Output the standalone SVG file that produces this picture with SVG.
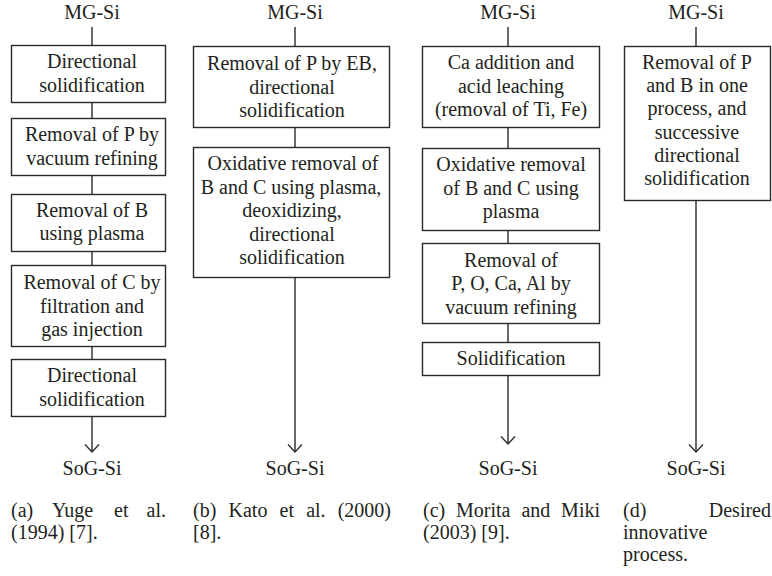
<svg xmlns="http://www.w3.org/2000/svg" width="772" height="576" viewBox="0 0 772 576">
<defs>
<marker id="ah" markerWidth="14" markerHeight="16" refX="10" refY="8" orient="auto" markerUnits="userSpaceOnUse" viewBox="0 0 14 16">
<path d="M2.5,1 L10,8 L2.5,15" fill="none" stroke="#2a2a2a" stroke-width="1.3"/>
</marker>
</defs>
<style>
.box{fill:#fff;stroke:#2a2a2a;stroke-width:1.4}
.ln{stroke:#2a2a2a;stroke-width:1.4}
</style>
<rect x="0" y="0" width="772" height="576" fill="#fff"/>
<g id="connectors">
<line class="ln" x1="92" y1="27" x2="92" y2="45"/>
<line class="ln" x1="92" y1="102" x2="92" y2="118"/>
<line class="ln" x1="92" y1="175" x2="92" y2="194"/>
<line class="ln" x1="92" y1="251" x2="92" y2="265"/>
<line class="ln" x1="92" y1="346" x2="92" y2="359"/>
<line class="ln" x1="92" y1="416" x2="92" y2="452" marker-end="url(#ah)"/>
<line class="ln" x1="295" y1="27" x2="295" y2="46"/>
<line class="ln" x1="295" y1="127" x2="295" y2="147"/>
<line class="ln" x1="295" y1="277" x2="295" y2="452" marker-end="url(#ah)"/>
<line class="ln" x1="508" y1="27" x2="508" y2="46"/>
<line class="ln" x1="508" y1="127" x2="508" y2="148"/>
<line class="ln" x1="508" y1="230" x2="508" y2="243"/>
<line class="ln" x1="508" y1="323" x2="508" y2="342"/>
<line class="ln" x1="508" y1="375" x2="508" y2="444" marker-end="url(#ah)"/>
<line class="ln" x1="696" y1="27" x2="696" y2="46"/>
<line class="ln" x1="696" y1="200" x2="696" y2="452" marker-end="url(#ah)"/>
</g>
<g id="a-mg"><text x="92" y="19" font-family="Liberation Serif" font-size="20" text-anchor="middle" fill="#231f20">MG-Si</text></g>
<g id="a1"><rect class="box" x="11.5" y="45.5" width="154" height="57"/><text x="92" y="68" font-family="Liberation Serif" font-size="20" text-anchor="middle" fill="#231f20">Directional</text><text x="92" y="91.5" font-family="Liberation Serif" font-size="20" text-anchor="middle" fill="#231f20">solidification</text></g>
<g id="a2"><rect class="box" x="11.5" y="118.5" width="154" height="57"/><text x="92" y="141" font-family="Liberation Serif" font-size="20" text-anchor="middle" fill="#231f20">Removal of P by</text><text x="92" y="164.5" font-family="Liberation Serif" font-size="20" text-anchor="middle" fill="#231f20">vacuum refining</text></g>
<g id="a3"><rect class="box" x="11.5" y="194.5" width="154" height="57"/><text x="92" y="216.5" font-family="Liberation Serif" font-size="20" text-anchor="middle" fill="#231f20">Removal of B</text><text x="92" y="240" font-family="Liberation Serif" font-size="20" text-anchor="middle" fill="#231f20">using plasma</text></g>
<g id="a4"><rect class="box" x="11.5" y="265.5" width="154" height="81"/><text x="92" y="289" font-family="Liberation Serif" font-size="20" text-anchor="middle" fill="#231f20">Removal of C by</text><text x="92" y="312.5" font-family="Liberation Serif" font-size="20" text-anchor="middle" fill="#231f20">filtration and</text><text x="92" y="336" font-family="Liberation Serif" font-size="20" text-anchor="middle" fill="#231f20">gas injection</text></g>
<g id="a5"><rect class="box" x="11.5" y="359.5" width="154" height="57"/><text x="92" y="382" font-family="Liberation Serif" font-size="20" text-anchor="middle" fill="#231f20">Directional</text><text x="92" y="405.5" font-family="Liberation Serif" font-size="20" text-anchor="middle" fill="#231f20">solidification</text></g>
<g id="a-sog"><text x="92" y="475" font-family="Liberation Serif" font-size="20" text-anchor="middle" fill="#231f20">SoG-Si</text></g>
<g id="a-cap" font-family="Liberation Serif" font-size="20" fill="#231f20"><text x="11" y="517">(a)</text><text x="52" y="517">Yuge</text><text x="114" y="517">et</text><text text-anchor="end" x="166" y="517">al.</text><text x="11" y="539">(1994) [7].</text></g>

<g id="b-mg"><text x="295" y="19" font-family="Liberation Serif" font-size="20" text-anchor="middle" fill="#231f20">MG-Si</text></g>
<g id="b1"><rect class="box" x="193.5" y="46.5" width="196" height="81"/><text x="292" y="70" font-family="Liberation Serif" font-size="20" text-anchor="middle" fill="#231f20">Removal of P by EB,</text><text x="292" y="93.5" font-family="Liberation Serif" font-size="20" text-anchor="middle" fill="#231f20">directional</text><text x="292" y="117" font-family="Liberation Serif" font-size="20" text-anchor="middle" fill="#231f20">solidification</text></g>
<g id="b2"><rect class="box" x="193.5" y="147.5" width="196" height="130"/><text x="293" y="170" font-family="Liberation Serif" font-size="20" text-anchor="middle" fill="#231f20">Oxidative removal of</text><text x="291" y="193.5" font-family="Liberation Serif" font-size="20" text-anchor="middle" fill="#231f20">B and C using plasma,</text><text x="292" y="217" font-family="Liberation Serif" font-size="20" text-anchor="middle" fill="#231f20">deoxidizing,</text><text x="292" y="240.5" font-family="Liberation Serif" font-size="20" text-anchor="middle" fill="#231f20">directional</text><text x="292" y="264" font-family="Liberation Serif" font-size="20" text-anchor="middle" fill="#231f20">solidification</text></g>
<g id="b-sog"><text x="295" y="475" font-family="Liberation Serif" font-size="20" text-anchor="middle" fill="#231f20">SoG-Si</text></g>
<g id="b-cap" font-family="Liberation Serif" font-size="20" fill="#231f20"><text x="193" y="517">(b)</text><text x="228.5" y="517">Kato</text><text x="279.6" y="517">et</text><text x="306.2" y="517">al.</text><text text-anchor="end" x="391" y="517">(2000)</text><text x="193" y="539">[8].</text></g>

<g id="c-mg"><text x="508" y="19" font-family="Liberation Serif" font-size="20" text-anchor="middle" fill="#231f20">MG-Si</text></g>
<g id="c1"><rect class="box" x="422.5" y="46.5" width="177" height="81"/><text x="511" y="69" font-family="Liberation Serif" font-size="20" text-anchor="middle" fill="#231f20">Ca addition and</text><text x="511" y="92.5" font-family="Liberation Serif" font-size="20" text-anchor="middle" fill="#231f20">acid leaching</text><text x="511" y="116" font-family="Liberation Serif" font-size="20" text-anchor="middle" fill="#231f20">(removal of Ti, Fe)</text></g>
<g id="c2"><rect class="box" x="422.5" y="148.5" width="177" height="82"/><text x="511" y="171" font-family="Liberation Serif" font-size="20" text-anchor="middle" fill="#231f20">Oxidative removal</text><text x="511" y="194.5" font-family="Liberation Serif" font-size="20" text-anchor="middle" fill="#231f20">of B and C using</text><text x="511" y="218" font-family="Liberation Serif" font-size="20" text-anchor="middle" fill="#231f20">plasma</text></g>
<g id="c3"><rect class="box" x="422.5" y="243.5" width="177" height="80"/><text x="511" y="267" font-family="Liberation Serif" font-size="20" text-anchor="middle" fill="#231f20">Removal of</text><text x="511" y="290" font-family="Liberation Serif" font-size="20" text-anchor="middle" fill="#231f20">P, O, Ca, Al by</text><text x="511" y="313.5" font-family="Liberation Serif" font-size="20" text-anchor="middle" fill="#231f20">vacuum refining</text></g>
<g id="c4"><rect class="box" x="422.5" y="342.5" width="177" height="33"/><text x="511" y="365" font-family="Liberation Serif" font-size="20" text-anchor="middle" fill="#231f20">Solidification</text></g>
<g id="c-sog"><text x="508" y="475" font-family="Liberation Serif" font-size="20" text-anchor="middle" fill="#231f20">SoG-Si</text></g>
<g id="c-cap" font-family="Liberation Serif" font-size="20" fill="#231f20"><text x="423" y="517">(c)</text><text x="456" y="517">Morita</text><text x="521.4" y="517">and</text><text text-anchor="end" x="600" y="517">Miki</text><text x="423" y="539">(2003) [9].</text></g>

<g id="d-mg"><text x="696" y="19" font-family="Liberation Serif" font-size="20" text-anchor="middle" fill="#231f20">MG-Si</text></g>
<g id="d1"><rect class="box" x="624.5" y="46.5" width="146" height="154"/><text x="697" y="69" font-family="Liberation Serif" font-size="20" text-anchor="middle" fill="#231f20">Removal of P</text><text x="697" y="92" font-family="Liberation Serif" font-size="20" text-anchor="middle" fill="#231f20">and B in one</text><text x="697" y="115" font-family="Liberation Serif" font-size="20" text-anchor="middle" fill="#231f20">process, and</text><text x="697" y="138.5" font-family="Liberation Serif" font-size="20" text-anchor="middle" fill="#231f20">successive</text><text x="697" y="162" font-family="Liberation Serif" font-size="20" text-anchor="middle" fill="#231f20">directional</text><text x="697" y="185" font-family="Liberation Serif" font-size="20" text-anchor="middle" fill="#231f20">solidification</text></g>
<g id="d-sog"><text x="696" y="475" font-family="Liberation Serif" font-size="20" text-anchor="middle" fill="#231f20">SoG-Si</text></g>
<g id="d-cap" font-family="Liberation Serif" font-size="20" fill="#231f20"><text x="623" y="517">(d)</text><text text-anchor="end" x="771" y="517">Desired</text><text x="623" y="539">innovative</text><text x="623" y="561">process.</text></g>
</svg>
